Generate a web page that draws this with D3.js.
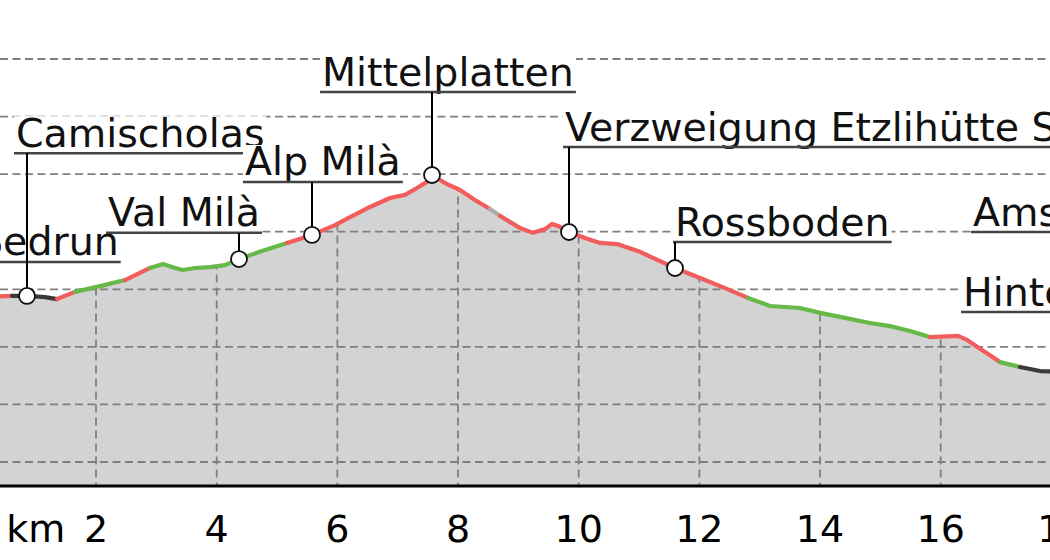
<!DOCTYPE html>
<html>
<head>
<meta charset="utf-8">
<script src="https://cdn.jsdelivr.net/npm/d3@7"></script>
<style>
  html, body { margin: 0; padding: 0; background: #fff; }
  svg { display: block; }
</style>
</head>
<body>
<script>
// ---------- data ----------
const kmPts = [0, 0.608, 0.856, 1.155, 1.354, 1.652, 2.066, 2.481, 2.895, 3.110, 3.309, 3.442, 3.641, 3.889, 4.138, 4.370, 4.751, 5.166, 5.580, 5.961, 6.210, 6.541, 6.873, 7.121, 7.320, 7.536, 7.569, 7.784, 8.033, 8.281, 8.530, 8.696, 9.027, 9.243, 9.442, 9.558, 9.657, 9.839, 10.105, 10.353, 10.635, 11.016, 11.348, 11.596, 12.011, 12.425, 12.806, 13.171, 13.668, 14.000, 14.331, 14.828, 15.160, 15.491, 15.822, 16.287, 16.436, 16.734, 16.983, 17.314, 17.646, 17.977, 18.3];
const elevPts = [1573, 1577, 1577, 1573, 1566, 1591, 1611, 1632, 1674, 1688, 1674, 1667, 1674, 1677, 1684, 1705, 1733, 1761, 1789, 1823, 1851, 1886, 1917, 1928, 1952, 1980, 1997, 1969, 1945, 1910, 1879, 1855, 1813, 1796, 1809, 1827, 1820, 1799, 1778, 1761, 1757, 1730, 1698, 1674, 1639, 1604, 1570, 1542, 1535, 1518, 1504, 1483, 1472, 1455, 1434, 1438, 1424, 1382, 1347, 1330, 1316, 1313, 1310];
// grade class of each segment (between point i and i+1): r = steep, g = moderate, d = flat, s = unknown
const gradeClass = ["r","d","d","d","r","g","g","r","g","g","g","g","g","g","g","g","g","r","r","r","r","r","r","r","r","r","r","r","r","r","s","r","r","r","r","r","r","r","r","r","r","r","r","r","r","r","g","g","g","g","g","g","g","g","r","r","r","r","g","d","d","d"];

const xTicks = [2, 4, 6, 8, 10, 12, 14, 16, 18];
const xTickLabels = ["2", "4", "6", "8", "10", "12", "14", "16", "18"];
const unitLabel = "km";
const unitKm = 1;
const yTicks = [1000, 1200, 1400, 1600, 1800, 2000, 2200, 2400];
const baseElev = 917;

const labelNames = ["Sedrun", "Camischolas", "Val Milà", "Alp Milà", "Mittelplatten", "Verzweigung Etzlihütte SAC", "Rossboden", "Amsteg", "Hinter Etzliboden"];
const labelMarkerKm = [0, 0.856, 4.370, 5.580, 7.569, 9.839, 11.596, 19.6, 18.4];
const labelMarkerElev = [1573, 1577, 1705, 1789, 1997, 1799, 1674, 1250, 1305];
const labelTextKm = [0.044, 0.674, 2.199, 4.469, 5.746, 9.773, 11.596, 16.536, 16.37];
const labelLineElev = [1695, 2073, 1796, 1973, 2285, 2094, 1764, 1799, 1521];

// ---------- layout / style ----------
const W = 1050, H = 560;
const FONT = "DejaVu Sans";
const FS = 39.5;
const TFS = 38;
const colors = { r: "#f25c5c", g: "#66b947", d: "#3a3a3a", s: "#aaaaaa" };

const x = d3.scaleLinear().domain([0, 18]).range([-24.67, 1061.4]);
const y = d3.scaleLinear().domain([1000, 2400]).range([462, 59]);
const yBase = y(baseElev);

const svg = d3.select("body").append("svg").attr("width", W).attr("height", H);

const pts = kmPts.map((k, i) => ({ k, e: elevPts[i] }));

const area = d3.area().x(d => x(d.k)).y0(yBase).y1(d => y(d.e));
const line = d3.line().x(d => x(d.k)).y(d => y(d.e));

svg.append("defs").append("clipPath").attr("id", "areaClip")
  .append("path").attr("d", area(pts));

// area fill
svg.append("path").attr("d", area(pts)).attr("fill", "#d3d3d3");

// vertical grid (clipped to the area)
svg.append("g").attr("clip-path", "url(#areaClip)")
  .selectAll("line").data(xTicks).join("line")
  .attr("x1", d => x(d)).attr("x2", d => x(d))
  .attr("y1", y(2600)).attr("y2", yBase)
  .attr("stroke", "#7f7f7f").attr("stroke-width", 1.8)
  .attr("stroke-dasharray", "8,5");

// horizontal grid
svg.append("g").selectAll("line").data(yTicks).join("line")
  .attr("x1", 0).attr("x2", W)
  .attr("y1", d => y(d)).attr("y2", d => y(d))
  .attr("stroke", "#7f7f7f").attr("stroke-width", 1.8)
  .attr("stroke-dasharray", "8,4.5");

// axis line
svg.append("line").attr("x1", 0).attr("x2", W).attr("y1", yBase).attr("y2", yBase)
  .attr("stroke", "#000").attr("stroke-width", 3);

// tick labels
svg.append("g").selectAll("text").data(xTicks).join("text")
  .attr("x", d => x(d)).attr("y", 542)
  .attr("text-anchor", "middle")
  .attr("font-family", FONT).attr("font-size", TFS).attr("fill", "#000")
  .text((d, i) => xTickLabels[i]);
svg.append("text").attr("x", x(unitKm)).attr("y", 542)
  .attr("text-anchor", "middle")
  .attr("font-family", FONT).attr("font-size", TFS).attr("fill", "#000")
  .text(unitLabel);

// profile line runs by grade class
const runs = [];
gradeClass.forEach((c, i) => {
  const last = runs[runs.length - 1];
  if (last && last.c === c) last.p.push(pts[i + 1]);
  else runs.push({ c, p: [pts[i], pts[i + 1]] });
});
svg.append("g").selectAll("path").data(runs).join("path")
  .attr("d", d => line(d.p))
  .attr("fill", "none")
  .attr("stroke", d => colors[d.c])
  .attr("stroke-width", 4.2)
  .attr("stroke-linejoin", "round")
  .attr("stroke-linecap", "round");

// labels
const lg = svg.append("g");
const leaders = [];
labelNames.forEach((name, i) => {
  const tx = x(labelTextKm[i]);
  const uy = y(labelLineElev[i]);
  const base = uy - 6.5;
  const g = lg.append("g");
  const rect = g.append("rect").attr("fill", "#fff");
  const t = g.append("text").attr("x", tx).attr("y", base)
    .attr("font-family", FONT).attr("font-size", FS).attr("fill", "#111")
    .text(name);
  const w = t.node().getComputedTextLength();
  const top = base - 0.77 * FS;
  rect.attr("x", tx - 2).attr("y", top).attr("width", w + 4).attr("height", uy - top);
  g.append("line").attr("x1", tx - 2).attr("x2", tx + w + 2).attr("y1", uy).attr("y2", uy)
    .attr("stroke", "#444").attr("stroke-width", 2.5);
  leaders.push({ x: x(labelMarkerKm[i]), y1: uy, y2: y(labelMarkerElev[i]) });
});
svg.append("g").selectAll("line").data(leaders).join("line")
  .attr("x1", d => d.x).attr("x2", d => d.x).attr("y1", d => d.y1).attr("y2", d => d.y2)
  .attr("stroke", "#000").attr("stroke-width", 2);

// markers
svg.append("g").selectAll("circle").data(labelNames).join("circle")
  .attr("cx", (d, i) => x(labelMarkerKm[i]))
  .attr("cy", (d, i) => y(labelMarkerElev[i]))
  .attr("r", 8)
  .attr("fill", "#fff").attr("stroke", "#111").attr("stroke-width", 1.8);
</script>
</body>
</html>
